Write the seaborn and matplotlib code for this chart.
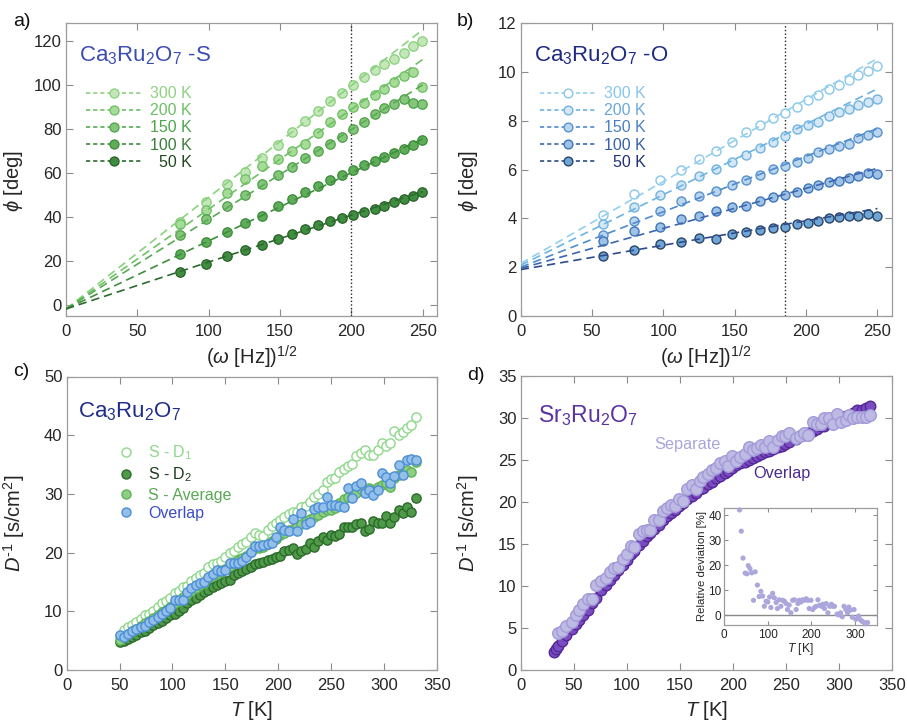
import matplotlib
matplotlib.use("Agg")
import numpy as np
import matplotlib.pyplot as plt
from matplotlib.lines import Line2D
import seaborn as sns

# ---------------- data ----------------
# (a) Ca3Ru2O7 - S : phase vs sqrt(omega)
omega_root_S = [80.0, 98.0, 112.6, 125.5, 137.6, 148.4, 158.4, 167.8, 176.9, 185.3,
                193.2, 200.9, 208.9, 216.4, 223.1, 230.1, 236.7, 243.2, 249.8]
phi_S_300K = [37.7, 46.8, 54.9, 60.5, 66.6, 72.5, 78.4, 83.4, 88.2, 92.5,
              96.2, 100.0, 103.4, 106.8, 109.6, 111.7, 114.4, 117.4, 119.7]
phi_S_200K = [36.9, 43.0, 50.8, 57.4, 63.0, 66.4, 69.8, 73.2, 78.1, 83.1,
              86.7, 89.9, 91.7, 95.2, 98.1, 101.1, 103.8, 105.9, 99.0]
phi_S_150K = [31.9, 39.2, 44.8, 50.1, 54.9, 58.9, 62.5, 66.7, 69.8, 73.1,
              76.1, 79.9, 83.1, 86.7, 89.4, 91.4, 93.7, 91.7, 91.3]
phi_S_100K = [23.2, 28.5, 33.1, 37.2, 40.6, 44.8, 48.1, 51.2, 53.9, 56.9,
              59.2, 61.4, 63.7, 65.2, 67.2, 69.0, 70.8, 72.8, 75.1]
phi_S_50K = [14.8, 18.8, 22.4, 25.1, 27.4, 30.1, 32.4, 34.5, 36.5, 38.0,
             39.5, 41.0, 42.4, 43.7, 45.1, 46.8, 48.1, 49.6, 51.2]
fit_S_intercept = [-1.8, -1.8, -1.8, -1.8, -1.8]
fit_S_slope = [0.507, 0.453, 0.407, 0.309, 0.213]
cut_S = 200

# (b) Ca3Ru2O7 - O
omega_root_O = [57.6, 79.6, 97.4, 112.1, 125.2, 137.2, 148.2, 158.0, 167.6, 176.5,
                184.9, 193.4, 201.1, 208.6, 215.8, 223.1, 230.1, 236.7, 243.4, 250.0]
phi_O_300K = [4.14, 4.99, 5.59, 6.00, 6.44, 6.76, 7.14, 7.52, 7.82, 8.11,
              8.30, 8.55, 8.83, 9.06, 9.28, 9.48, 9.68, 9.89, 10.03, 10.23]
phi_O_200K = [3.77, 4.46, 4.94, 5.38, 5.75, 6.03, 6.32, 6.59, 6.87, 7.13,
              7.38, 7.66, 7.82, 7.96, 8.18, 8.34, 8.48, 8.65, 8.76, 8.90]
phi_O_150K = [3.31, 3.90, 4.32, 4.69, 4.90, 5.13, 5.35, 5.56, 5.79, 6.03,
              6.14, 6.32, 6.48, 6.73, 6.83, 6.97, 7.03, 7.27, 7.41, 7.54]
phi_O_100K = [3.06, 3.48, 3.66, 3.97, 4.10, 4.32, 4.46, 4.52, 4.72, 4.87,
              4.94, 5.06, 5.24, 5.35, 5.48, 5.52, 5.66, 5.72, 5.86, 5.83]
phi_O_50K = [2.44, 2.69, 2.94, 3.03, 3.20, 3.17, 3.35, 3.42, 3.54, 3.59,
             3.66, 3.75, 3.82, 3.90, 4.00, 4.07, 4.10, 4.11, 4.18, 4.10]
fit_O_intercept = [2.15, 2.08, 2.00, 1.95, 1.90]
fit_O_slope = [0.0336, 0.0289, 0.0227, 0.0164, 0.0100]
cut_O = 185

fit_range = [0, 250]
temp_labels = ["300 K", "200 K", "150 K", "100 K", "  50 K"]

# (c) Ca3Ru2O7 inverse diffusivity
T_c = [50, 54, 58, 62, 66, 70, 74, 78, 82, 86, 90, 94, 98, 102, 106, 110, 114, 118,
       122, 126, 130, 134, 138, 142, 146, 150, 154, 158, 162, 166, 170, 174, 178,
       182, 186, 190, 194, 198, 202, 206, 210, 214, 218, 222, 226, 230, 234, 238,
       242, 246, 250, 254, 258, 262, 266, 270, 274, 278, 282, 286, 290, 294, 298,
       302, 306, 310, 314, 318, 322, 326, 330]
invD_S_D1 = [5.8, 6.8, 7.3, 7.7, 8.2, 8.7, 9.4, 9.6, 10.1, 10.8,
             11.4, 11.8, 12.3, 13.2, 13.5, 14.2, 14.3, 15.1, 15.7, 16.1,
             16.6, 17.6, 18.0, 18.3, 18.6, 19.3, 20.0, 20.2, 20.9, 21.4,
             21.8, 22.6, 23.3, 23.0, 22.8, 23.8, 24.5, 25.0, 25.5, 26.1,
             26.6, 27.0, 27.0, 27.7, 28.0, 28.7, 29.4, 29.9, 30.6, 32.0,
             32.6, 32.7, 33.7, 34.3, 34.7, 35.1, 36.4, 37.0, 37.4, 36.6,
             36.6, 37.4, 38.7, 38.2, 38.6, 40.8, 40.1, 40.5, 41.3, 41.8,
             43.1]
invD_S_D2 = [4.7, 4.9, 5.2, 5.6, 5.9, 6.4, 6.7, 7.2, 7.6, 8.0,
             8.4, 8.8, 9.3, 9.6, 10.1, 10.5, 11.4, 11.9, 12.3, 12.8,
             13.3, 13.6, 14.1, 14.4, 14.8, 15.1, 15.4, 16.2, 16.6, 16.9,
             17.2, 17.6, 18.1, 18.2, 18.4, 18.7, 18.9, 19.3, 19.5, 20.2,
             20.5, 20.7, 19.8, 20.2, 20.6, 21.6, 21.0, 21.9, 22.7, 22.2,
             23.0, 22.8, 23.2, 24.4, 24.3, 24.3, 24.9, 25.0, 23.6, 24.0,
             25.4, 25.0, 25.1, 26.2, 25.0, 26.1, 27.2, 26.8, 27.8, 27.0,
             29.3]
invD_S_avg = [5.1, 5.6, 6.2, 6.6, 7.0, 7.5, 8.0, 8.4, 8.9, 9.4,
              9.9, 10.3, 10.8, 11.4, 11.8, 12.4, 12.9, 13.5, 14.0, 14.5,
              14.9, 15.6, 16.0, 16.4, 16.7, 17.2, 17.7, 18.2, 18.8, 19.1,
              19.5, 20.1, 20.7, 20.7, 21.0, 21.4, 21.9, 22.3, 23.0, 23.4,
              23.8, 24.0, 24.5, 24.9, 25.4, 25.8, 26.1, 26.4, 27.0, 27.3,
              27.2, 27.6, 28.4, 29.1, 29.5, 29.5, 30.1, 30.8, 30.8, 31.0,
              30.7, 31.1, 31.5, 31.8, 31.1, 32.7, 33.2, 33.4, 34.1, 33.8,
              35.5]
invD_overlap_c = [6.0, 5.6, 6.1, 6.6, 7.0, 7.3, 7.5, 8.1, 8.6, 9.0,
                  9.6, 10.1, 10.6, 11.9, 11.9, 12.0, 13.3, 14.0, 14.4, 14.8,
                  15.0, 15.8, 16.4, 17.0, 16.9, 17.0, 18.2, 18.2, 18.2, 18.5,
                  19.3, 20.1, 21.1, 21.2, 21.3, 21.5, 21.6, 22.7, 24.4, 23.9,
                  23.6, 25.8, 23.7, 26.8, 24.9, 25.2, 27.4, 27.8, 27.7, 29.4,
                  28.1, 28.1, 28.0, 27.7, 31.0, 29.3, 31.4, 31.9, 30.1, 30.6,
                  29.8, 30.6, 33.6, 32.9, 31.9, 33.1, 34.9, 33.2, 35.8, 35.9,
                  35.8]
c_labels = [r"S - D$_1$", r"S - D$_2$", "S - Average", "Overlap"]

# (d) Sr3Ru2O7 inverse diffusivity and relative deviation
T_d = [35, 39, 43, 48, 52, 55, 59, 63, 67, 71, 76, 80, 84, 88, 92, 96, 100, 104,
       107, 111, 115, 119, 122, 126, 130, 134, 138, 142, 145, 149, 153, 157, 161,
       165, 169, 172, 176, 180, 184, 188, 192, 195, 199, 203, 207, 211, 215, 219,
       223, 226, 230, 234, 238, 242, 246, 249, 253, 259, 263, 267, 271, 275, 279,
       283, 286, 290, 294, 298, 302, 306, 309, 313, 317, 321, 325, 329]
invD_separate = [4.4, 4.6, 5.2, 5.7, 6.6, 7.2, 7.8, 8.4, 8.5, 10.1,
                 10.6, 10.9, 11.7, 12.2, 12.3, 13.2, 13.8, 14.8, 14.6, 16.2,
                 16.5, 16.7, 16.7, 17.8, 17.9, 18.9, 19.3, 19.6, 19.5, 20.3,
                 20.1, 21.5, 22.0, 21.6, 22.5, 23.0, 23.3, 23.8, 24.1, 24.6,
                 24.9, 24.3, 25.5, 24.9, 25.3, 25.7, 26.5, 26.2, 26.4, 26.8,
                 26.6, 27.3, 26.5, 27.4, 27.8, 27.9, 28.2, 27.6, 27.8, 28.2,
                 28.0, 29.5, 29.3, 29.3, 30.0, 30.0, 29.3, 30.5, 29.5, 29.8,
                 30.3, 30.0, 30.1, 30.1, 30.1, 30.4]
T_d_overlap = [31, 33] + T_d
invD_overlap_d = [2.1, 2.5,
                  2.9, 3.4, 4.2, 4.9, 5.5, 6.0, 6.6, 7.2, 8.0, 8.6,
                  9.5, 10.1, 10.7, 11.3, 11.9, 12.5, 13.1, 13.8, 14.2, 14.9,
                  15.4, 15.9, 16.3, 16.8, 17.3, 17.8, 18.3, 18.7, 19.1, 19.5,
                  19.9, 20.3, 20.7, 21.1, 21.5, 21.7, 22.1, 22.4, 22.8, 23.1,
                  23.5, 23.7, 24.1, 24.4, 24.6, 24.8, 25.0, 25.2, 25.5, 25.7,
                  25.9, 26.1, 26.3, 26.5, 26.7, 26.9, 27.2, 27.5, 27.8, 28.0,
                  28.2, 28.5, 28.7, 29.0, 29.1, 29.4, 29.6, 29.8, 30.0, 30.2,
                  30.4, 30.6, 30.9, 31.0, 31.2, 31.4]
rel_deviation = [42.1, 33.6, 22.8, 16.8, 16.5, 19.8, 18.6, 16.9, 5.9, 17.3,
                 12.0, 7.4, 9.5, 7.6, 3.5, 5.5, 5.2, 7.2, 3.0, 8.7,
                 6.9, 5.0, 2.6, 6.1, 3.5, 5.9, 5.5, 4.6, 2.2, 4.0,
                 0.9, 5.9, 6.1, 2.2, 4.6, 5.9, 5.2, 6.1, 5.9, 6.5,
                 5.9, 2.6, 5.9, 2.2, 3.0, 3.5, 6.1, 3.9, 3.5, 4.3,
                 2.6, 4.6, 0.9, 3.5, 4.3, 3.5, 3.5, 0.4, 0.0, 0.9,
                 -0.7, 3.5, 2.2, 0.9, 3.2, 2.0, -0.9, 2.2, -1.7, -1.3,
                 -0.4, -2.0, -2.6, -3.0, -3.5, -3.0]

# ---------------- colours ----------------
green_face = ["#c3e7b8", "#a6db98", "#84c77a", "#5fad59", "#3f8e3f"]
green_edge = ["#88cf7c", "#6cbd62", "#4f9f4a", "#3a8a39", "#285f29"]
green_line = ["#8ad27e", "#70c066", "#58aa54", "#3e8e3e", "#2d6a2e"]
green_text = ["#8fd081", "#6cbf64", "#4fa54c", "#3a7f3a", "#1f4a20"]

blue_face = ["#ffffff", "#d3e7f6", "#bad6ef", "#9dc2e6", "#6ea6d8"]
blue_edge = ["#88c6ea", "#72b2df", "#5891ce", "#3f74b8", "#2b4465"]
blue_line = ["#92cff0", "#6cb3e6", "#4f8bcd", "#3c66b0", "#2e4b8a"]
blue_text = ["#88c6ea", "#6aa8dc", "#4a80c6", "#3561a8", "#1e3275"]

c_face = ["#ffffff", "#4e9a48", "#8ecf84", "#93bfe8"]
c_edge = ["#8ed88a", "#2b6a2a", "#5db357", "#4b8ed6"]
c_text = ["#8ed88a", "#1e3b1e", "#5aa855", "#3b4bc8"]

# ---------------- style ----------------
sns.set_style("ticks")
plt.rcParams["font.family"] = ["Liberation Sans", "DejaVu Sans"]
plt.rcParams["mathtext.fontset"] = "custom"
plt.rcParams["mathtext.rm"] = "Liberation Sans"
plt.rcParams["mathtext.it"] = "Liberation Sans:italic"
plt.rcParams["mathtext.bf"] = "Liberation Sans:bold"
plt.rcParams["mathtext.sf"] = "Liberation Sans"

fig = plt.figure(figsize=(9.07, 7.23), dpi=100)
W, H = 907.0, 723.0


def box(x0, y0, x1, y1):
    return [x0 / W, 1 - y1 / H, (x1 - x0) / W, (y1 - y0) / H]


ax_a = fig.add_axes(box(66, 23, 437, 316))
ax_b = fig.add_axes(box(520.7, 23, 891.7, 316))
ax_c = fig.add_axes(box(66.7, 376.5, 436.7, 670))
ax_d = fig.add_axes(box(520.7, 376, 892.3, 670))
ax_in = fig.add_axes(box(724.3, 507.7, 876.7, 625))


def style_axes(ax, size=12, length=5, pad=6):
    for s in ax.spines.values():
        s.set_visible(True)
        s.set_color("#9c9c9c")
        s.set_linewidth(0.9)
    ax.tick_params(which="both", direction="in", top=True, right=True,
                   length=length, width=0.8, color="#8c8c8c",
                   labelsize=size, labelcolor="#262626")
    ax.tick_params(axis="x", pad=pad)
    ax.tick_params(axis="y", pad=3)
    ax.set_facecolor("white")


LABEL_SIZE = 14.5
TITLE_SIZE = 16
INV_D_LABEL = r"$D^{\mathrm{‐}1}$ [s/cm$^2$]"

# ---- (a) ----
series_S = [phi_S_300K, phi_S_200K, phi_S_150K, phi_S_100K, phi_S_50K]
handles = []
for i, ys in enumerate(series_S):
    sns.scatterplot(x=omega_root_S, y=ys, ax=ax_a, s=46, color=green_face[i],
                    edgecolor=green_edge[i], linewidth=0.9, zorder=3, legend=False)
    xs = np.array(fit_range, dtype=float)
    sns.lineplot(x=xs, y=fit_S_intercept[i] + fit_S_slope[i] * xs, ax=ax_a,
                 color=green_line[i], linestyle=(0, (5, 3)), linewidth=1.2,
                 zorder=4, legend=False)
    handles.append(Line2D([], [], color=green_line[i], ls=(0, (2.5, 1.8)), lw=1.2,
                          marker="o", markersize=6.5, markerfacecolor=green_face[i],
                          markeredgecolor=green_edge[i], markeredgewidth=0.9))
ax_a.axvline(cut_S, color="#222222", ls=(0, (1, 1.6)), lw=1.0, zorder=2)
ax_a.set_xlim(0, 260)
ax_a.set_ylim(-5, 128)
ax_a.set_xticks([0, 50, 100, 150, 200, 250])
ax_a.set_yticks([0, 20, 40, 60, 80, 100, 120])
style_axes(ax_a)
leg = ax_a.legend(handles, temp_labels, loc="upper left", bbox_to_anchor=(0.055, 0.784),
                  frameon=False, fontsize=11.5, handlelength=3.4, handletextpad=0.6,
                  labelspacing=0.13, borderpad=0, borderaxespad=0, numpoints=1)
for t, c in zip(leg.get_texts(), green_text):
    t.set_color(c)
ax_a.text(0.035, 0.89, r"Ca$_3$Ru$_2$O$_7$ -S", transform=ax_a.transAxes,
          fontsize=TITLE_SIZE, color="#3b4db3", va="center", ha="left")
ax_a.set_xlabel(r"($\omega$ [Hz])$^{1/2}$", fontsize=LABEL_SIZE)
ax_a.set_ylabel(r"$\phi$ [deg]", fontsize=LABEL_SIZE)

# ---- (b) ----
series_O = [phi_O_300K, phi_O_200K, phi_O_150K, phi_O_100K, phi_O_50K]
handles = []
for i, ys in enumerate(series_O):
    sns.scatterplot(x=omega_root_O, y=ys, ax=ax_b, s=42, color=blue_face[i],
                    edgecolor=blue_edge[i], linewidth=1.0, zorder=3, legend=False)
    xs = np.array(fit_range, dtype=float)
    sns.lineplot(x=xs, y=fit_O_intercept[i] + fit_O_slope[i] * xs, ax=ax_b,
                 color=blue_line[i], linestyle=(0, (5, 3)), linewidth=1.2,
                 zorder=4, legend=False)
    handles.append(Line2D([], [], color=blue_line[i], ls=(0, (2.5, 1.8)), lw=1.2,
                          marker="o", markersize=6.3, markerfacecolor=blue_face[i],
                          markeredgecolor=blue_edge[i], markeredgewidth=1.0))
ax_b.axvline(cut_O, color="#222222", ls=(0, (1, 1.6)), lw=1.0, zorder=2)
ax_b.set_xlim(0, 260)
ax_b.set_ylim(0, 12)
ax_b.set_xticks([0, 50, 100, 150, 200, 250])
ax_b.set_yticks([0, 2, 4, 6, 8, 10, 12])
style_axes(ax_b)
leg = ax_b.legend(handles, temp_labels, loc="upper left", bbox_to_anchor=(0.053, 0.784),
                  frameon=False, fontsize=11.5, handlelength=3.4, handletextpad=0.6,
                  labelspacing=0.13, borderpad=0, borderaxespad=0, numpoints=1)
for t, c in zip(leg.get_texts(), blue_text):
    t.set_color(c)
ax_b.text(0.035, 0.89, r"Ca$_3$Ru$_2$O$_7$ -O", transform=ax_b.transAxes,
          fontsize=TITLE_SIZE, color="#1e2a80", va="center", ha="left")
ax_b.set_xlabel(r"($\omega$ [Hz])$^{1/2}$", fontsize=LABEL_SIZE)
ax_b.set_ylabel(r"$\phi$ [deg]", fontsize=LABEL_SIZE)

# ---- (c) ----
series_c = [invD_S_D1, invD_S_D2, invD_S_avg, invD_overlap_c]
handles = []
for i, ys in enumerate(series_c):
    sns.scatterplot(x=T_c, y=ys, ax=ax_c, s=44, color=c_face[i], edgecolor=c_edge[i],
                    linewidth=1.0, zorder=3 + i, legend=False)
    handles.append(Line2D([], [], ls="none", marker="o", markersize=6.5,
                          markerfacecolor=c_face[i], markeredgecolor=c_edge[i],
                          markeredgewidth=1.0))
ax_c.set_xlim(0, 350)
ax_c.set_ylim(0, 50)
ax_c.set_xticks(range(0, 351, 50))
ax_c.set_yticks(range(0, 51, 10))
style_axes(ax_c)
leg = ax_c.legend(handles, c_labels, loc="upper left", bbox_to_anchor=(0.135, 0.773),
                  frameon=False, fontsize=11.5, handlelength=1.2, handletextpad=0.75,
                  labelspacing=0.22, borderpad=0, borderaxespad=0, numpoints=1)
for t, c in zip(leg.get_texts(), c_text):
    t.set_color(c)
ax_c.text(0.03, 0.88, r"Ca$_3$Ru$_2$O$_7$", transform=ax_c.transAxes,
          fontsize=TITLE_SIZE, color="#1f2d8a", va="center", ha="left")
ax_c.set_xlabel(r"$T$ [K]", fontsize=LABEL_SIZE)
ax_c.set_ylabel(INV_D_LABEL, fontsize=LABEL_SIZE)

# ---- (d) ----
sns.scatterplot(x=T_d_overlap, y=invD_overlap_d, ax=ax_d, s=58, color="#7a4cc0",
                edgecolor="#55289a", linewidth=1.0, zorder=3, legend=False)
sns.scatterplot(x=T_d, y=invD_separate, ax=ax_d, s=70, color="#bdbae3",
                edgecolor="#a29ad8", linewidth=1.0, zorder=4, legend=False)
ax_d.set_xlim(0, 350)
ax_d.set_ylim(0, 35)
ax_d.set_xticks(range(0, 351, 50))
ax_d.set_yticks(range(0, 36, 5))
style_axes(ax_d)
ax_d.text(0.047, 0.867, r"Sr$_3$Ru$_2$O$_7$", transform=ax_d.transAxes,
          fontsize=16.5, color="#5a33a2", va="center", ha="left")
ax_d.text(126, 26.9, "Separate", fontsize=11.7, color="#a9a4dd", va="center", ha="left",
          zorder=6)
ax_d.text(219, 23.4, "Overlap", fontsize=11.7, color="#4b2a8f", va="center", ha="left",
          zorder=6)
ax_d.set_xlabel(r"$T$ [K]", fontsize=LABEL_SIZE)
ax_d.set_ylabel(INV_D_LABEL, fontsize=LABEL_SIZE)

# ---- inset ----
ax_in.axhline(0, color="#8a8a8a", lw=1.0, zorder=1)
sns.scatterplot(x=T_d, y=rel_deviation, ax=ax_in, s=14, color="#aba7dc",
                edgecolor="none", zorder=3, legend=False, clip_on=False)
ax_in.set_xlim(0, 350)
ax_in.set_ylim(-4, 43)
ax_in.set_xticks([0, 100, 200, 300])
ax_in.set_yticks([0, 10, 20, 30, 40])
style_axes(ax_in, size=8.5, length=3, pad=3)
ax_in.tick_params(axis="y", pad=2)
ax_in.set_xlabel(r"$T$ [K]", fontsize=8.8, labelpad=0)
ax_in.set_ylabel("Relative deviation [%]", fontsize=8.2, labelpad=1)

# axis label placement
for ax in (ax_a, ax_b):
    ax.xaxis.set_label_coords(0.5, -0.095)
    ax.yaxis.set_label_coords(-0.11, 0.46)
for ax in (ax_c, ax_d):
    ax.xaxis.set_label_coords(0.5, -0.1)
    ax.yaxis.set_label_coords(-0.108, 0.5)

# panel letters
for letter, (px, py) in zip(["a)", "b)", "c)", "d)"],
                            [(13, 21), (457, 21), (13, 372), (467, 375)]):
    fig.text(px / W, 1 - py / H, letter, fontsize=14, color="#111111",
             ha="left", va="center")

fig.savefig("out.png", dpi=100)
